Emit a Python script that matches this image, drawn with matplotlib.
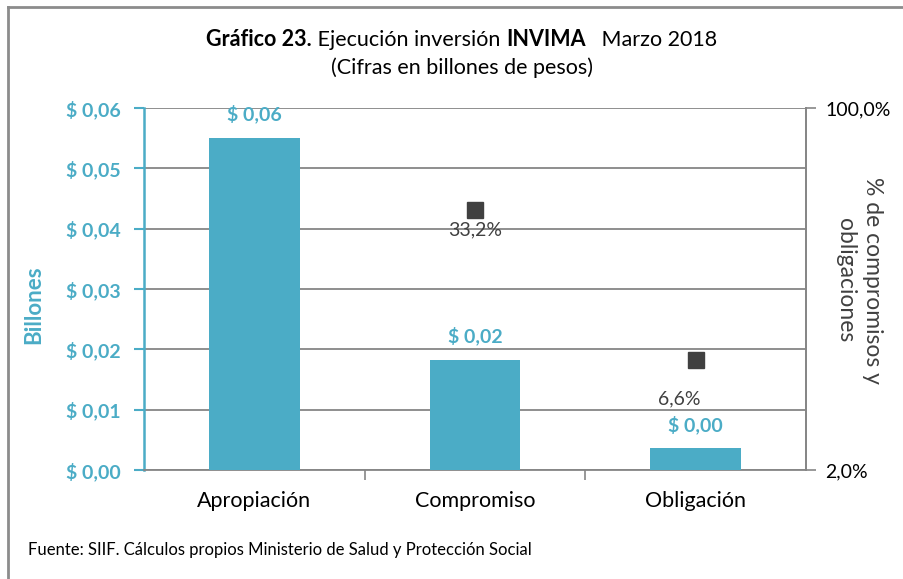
import matplotlib
matplotlib.use("Agg")
import matplotlib.pyplot as plt
import numpy as np
from matplotlib.ticker import NullLocator

plt.rcParams['font.family'] = ['Lato', 'DejaVu Sans']

categorias = ['Apropiación', 'Compromiso', 'Obligación']
billones = [0.0551, 0.0183, 0.00364]
pct_cat = [1, 2]          # Compromiso, Obligación
porcentajes = [0.332, 0.066]

teal = '#4BACC6'
gris = '#868686'
oscuro = '#404040'

def fmt_pesos(v):
    return '$ ' + ('%.2f' % v).replace('.', ',')

def fmt_pct(v):
    return ('%.1f%%' % (v * 100)).replace('.', ',')

fig = plt.figure(figsize=(9.04, 5.79), dpi=100)
ax = fig.add_axes([144/904, 1 - 470/579, (806 - 144)/904, (470 - 108)/579])

x = np.arange(len(categorias))
ax.bar(x, billones, width=0.41, color=teal, zorder=3)
ax.set_xlim(-0.5, 2.5)
ax.set_ylim(0, 0.06)
yt = np.arange(0, 0.0601, 0.01)
ax.set_yticks(yt)
ax.set_yticklabels([fmt_pesos(v) for v in yt], color=teal, fontweight='bold', fontsize=14)
ax.yaxis.grid(True, color=gris, linewidth=1.3, zorder=0)
ax.set_axisbelow(True)

# categorias: marcas entre grupos, etiquetas al centro
ax.set_xticks([0.5, 1.5])
ax.set_xticklabels(['', ''])
ax.tick_params(axis='x', length=7, color=gris, width=1.2)
ax.set_xticks(x, minor=True)
ax.set_xticklabels(categorias, minor=True, fontsize=15.5)
ax.tick_params(axis='x', which='minor', length=0, pad=15)
ax.tick_params(axis='y', length=7, color=teal, width=1.5, pad=10)

ax.spines['top'].set_visible(False)
ax.spines['left'].set_color(teal)
ax.spines['left'].set_linewidth(1.8)
ax.spines['bottom'].set_color(gris)
ax.spines['bottom'].set_linewidth(1.3)
ax.spines['right'].set_color(gris)
ax.spines['right'].set_linewidth(1.3)

fig.text(34/904, 1 - 305/579, 'Billones', color=teal, fontweight='bold', fontsize=16,
         rotation=90, ha='center', va='center')

for xi, v in zip(x, billones):
    ax.annotate(fmt_pesos(v), (xi, v), xytext=(0, 17), textcoords='offset points',
                ha='center', va='center', color=teal, fontweight='bold', fontsize=14)

# eje secundario (escala logaritmica)
ax2 = ax.twinx()
ax2.set_yscale('log')
ax2.set_ylim(0.02, 1.0)
ax2.yaxis.set_minor_locator(NullLocator())
ax2.set_yticks([0.02, 1.0])
ax2.set_yticklabels(['2,0%', '100,0%'], fontsize=14)
ax2.tick_params(axis='y', length=7, color=gris, width=1.2, pad=7)
for s in ['top', 'left', 'bottom']:
    ax2.spines[s].set_visible(False)
ax2.spines['right'].set_color(gris)
ax2.spines['right'].set_linewidth(1.3)
ax2.plot(pct_cat, porcentajes, linestyle='none', marker='s', markersize=11.5,
         color=oscuro, zorder=4)

fig.text(859/904, 1 - 280/579, '% de compromisos y\nobligaciones', rotation=270,
         fontsize=16.5, color=oscuro, ha='center', va='center', linespacing=1.3,
         multialignment='center')

ax2.annotate(fmt_pct(porcentajes[0]), (pct_cat[0], porcentajes[0]), xytext=(0, -14),
             textcoords='offset points', ha='center', va='center', fontsize=14, color=oscuro)
ax2.annotate(fmt_pct(porcentajes[1]), (pct_cat[1], porcentajes[1]), xytext=(-12, -28),
             textcoords='offset points', ha='center', va='center', fontsize=14, color=oscuro)

# titulo con partes en negrita
partes = [('Gráfico 23.', 'bold'), (' Ejecución inversión ', 'normal'),
          ('INVIMA', 'bold'), ('   Marzo 2018', 'normal')]
textos = [fig.text(0, 1 - 40/579, t, fontweight=w, fontsize=15.5, va='center', ha='left')
          for t, w in partes]
fig.canvas.draw()
r = fig.canvas.get_renderer()
anchos = [t.get_window_extent(r).width for t in textos]
x0 = 462 - sum(anchos) / 2
for t, w in zip(textos, anchos):
    t.set_x(x0 / 904)
    x0 += w
fig.text(462/904, 1 - 68/579, '(Cifras en billones de pesos)', fontsize=15.5,
         ha='center', va='center')

fig.text(28/904, 1 - 550/579,
         'Fuente: SIIF. Cálculos propios Ministerio de Salud y Protección Social',
         fontsize=12, ha='left', va='center')

# borde superior e izquierdo
fig.add_artist(plt.Line2D([8/904, 1], [1 - 7/579] * 2, color='#8c8c8c', linewidth=2))
fig.add_artist(plt.Line2D([8/904] * 2, [0, 1 - 7/579], color='#8c8c8c', linewidth=2))

fig.savefig('out.png', dpi=100)
